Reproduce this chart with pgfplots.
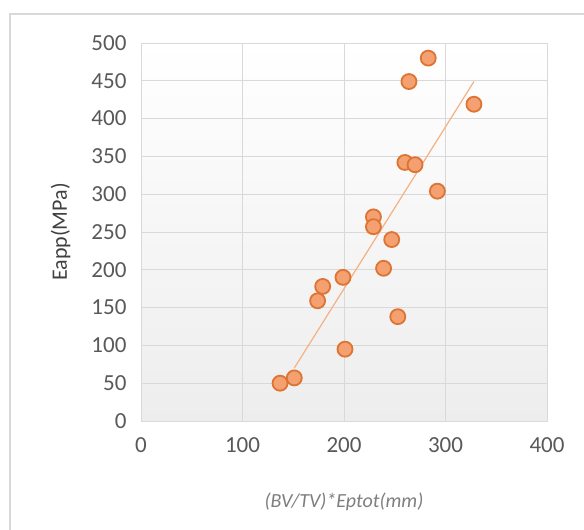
\documentclass[border=0pt]{standalone}
\usepackage{pgfplots}
\pgfplotsset{compat=1.18}
\usepackage{fontspec}
\setmainfont{Carlito}
\definecolor{tickgray}{HTML}{595959}
\definecolor{labgray}{HTML}{404040}
\definecolor{xlabgray}{HTML}{7F7F7F}
\definecolor{gridgray}{HTML}{D9D9D9}
\definecolor{mfill}{HTML}{F4A070}
\definecolor{medge}{HTML}{DD7433}
\definecolor{trend}{HTML}{F4B183}
\begin{document}
\begin{tikzpicture}[x=1pt,y=1pt]
\useasboundingbox (0,0) rectangle (584,530);
\fill[white] (0,0) rectangle (584,530);
\draw[gridgray,line width=1.5pt] (10,0) -- (10,516) -- (584,516);
\begin{axis}[
  at={(141pt,109pt)}, anchor=south west,
  width=406pt, height=378pt, scale only axis,
  xmin=0, xmax=400, ymin=0, ymax=500,
  xtick={0,100,...,400}, ytick={0,50,...,500},
  grid=major,
  major grid style={gridgray, line width=0.9pt},
  axis line style={gridgray, line width=0.9pt},
  tick style={draw=none},
  axis background/.style={shade, top color=white, bottom color=black!7},
  tick label style={font=\fontsize{23}{26}\selectfont, text=tickgray},
  /pgf/number format/assume math mode=true,
  y tick label style={xshift=-11pt},
  x tick label style={yshift=-13pt},
  ylabel={Eapp(MPa)},
  ylabel style={font=\fontsize{22}{25}\selectfont, text=labgray, at={(axis description cs:-0.165,0.5)}},
  xlabel={\itshape (BV/TV)*Eptot(mm)},
  xlabel style={font=\fontsize{20}{23}\selectfont, text=xlabgray, at={(axis description cs:0.5,-0.18)}},
]
\addplot[trend, line width=1.2pt] coordinates {(151,70) (328,449)};
\addplot[only marks, mark=*, mark size=7.5pt, mark options={fill=mfill, draw=medge, line width=1.8pt}]
coordinates {
(283,480) (264,449) (328,419) (260,342) (270,339) (292,304)
(229,270) (229,257) (247,240) (239,202) (199,190) (179,178)
(174,159) (253,138) (201,95) (151,57) (137,50)
};
\end{axis}
\end{tikzpicture}
\end{document}
